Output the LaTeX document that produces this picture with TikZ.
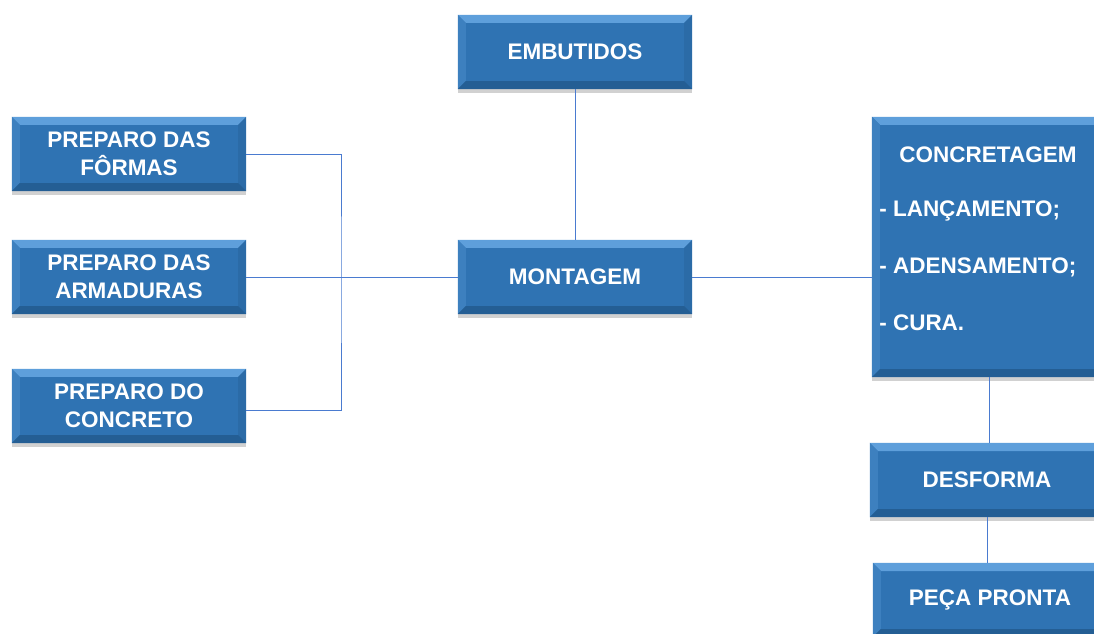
\documentclass[tikz,border=0pt]{standalone}
\usepackage{fontspec}
\setmainfont{Liberation Sans}
\usepackage{xcolor}
\usetikzlibrary{positioning,calc,shadows}
\definecolor{caixa}{HTML}{2F73B3}
\definecolor{caixaclara}{HTML}{5E9FDB}
\definecolor{caixaesc}{HTML}{245E94}
\definecolor{linha}{HTML}{4A7BD0}
\newcommand{\bv}{0.2cm}

\begin{document}
\begin{tikzpicture}[x=0.025cm, y=-0.025cm, every node/.style={align=center}]
\tikzset{
  etapa/.style={fill=caixa, text=white, font=\bfseries\fontsize{16}{20}\selectfont,
    minimum width=5.85cm, minimum height=1.85cm, inner sep=0pt,
    drop shadow={shadow xshift=0pt, shadow yshift=-2.5pt, opacity=0.3, fill=black!60},
    path picture={
      \fill[caixaclara] (path picture bounding box.north west) -- (path picture bounding box.north east)
        -- ([xshift=-\bv,yshift=-\bv]path picture bounding box.north east) -- ([xshift=\bv,yshift=-\bv]path picture bounding box.north west) -- cycle;
      \fill[caixa!70!caixaclara] (path picture bounding box.north west) -- ([xshift=\bv,yshift=-\bv]path picture bounding box.north west)
        -- ([xshift=\bv,yshift=\bv]path picture bounding box.south west) -- (path picture bounding box.south west) -- cycle;
      \fill[caixa!60!caixaesc] (path picture bounding box.north east) -- ([xshift=-\bv,yshift=-\bv]path picture bounding box.north east)
        -- ([xshift=-\bv,yshift=\bv]path picture bounding box.south east) -- (path picture bounding box.south east) -- cycle;
      \fill[caixaesc] (path picture bounding box.south west) -- (path picture bounding box.south east)
        -- ([xshift=-\bv,yshift=\bv]path picture bounding box.south east) -- ([xshift=\bv,yshift=\bv]path picture bounding box.south west) -- cycle;
    }},
  txtw/.style={text=white, font=\bfseries\fontsize{16}{20}\selectfont, inner sep=0pt},
  ligacao/.style={draw=linha, line width=0.6pt}
}
\useasboundingbox (0,0) rectangle (1094,633);
\clip (0,0) rectangle (1094,633);

% etapas
\node[etapa] (embutidos) at (575,52) {EMBUTIDOS};
\node[etapa] (formas) at (129,154) {PREPARO DAS\\FÔRMAS};
\node[etapa] (armaduras) at (129,277) {PREPARO DAS\\ARMADURAS};
\node[etapa] (concreto) at (129,406) {PREPARO DO\\CONCRETO};
\node[etapa] (montagem) at (575,277) {MONTAGEM};
\node[etapa, minimum height=6.5cm] (concretagem) at (989,247) {};
\node[txtw] (concretagemtit) at (988,155) {CONCRETAGEM};
\node[txtw, anchor=west] (lancamento) at (879,211) {- LANÇAMENTO;};
\node[txtw, anchor=west] (adensamento) at (879,267) {- ADENSAMENTO;};
\node[txtw, anchor=west] (cura) at (879,323) {- CURA.};
\node[etapa] (desforma) at (987,480) {DESFORMA};
\node[etapa] (pronta) at (990,600) {PEÇA PRONTA};

% ligacoes
\coordinate (juncao) at (341,277);
\draw[ligacao] (formas.east) -| (juncao) |- ($(concreto.east)+(0,4)$);
\draw[ligacao] (armaduras.east) -- (montagem.west);
\draw[ligacao] (embutidos.south) -- (montagem.north);
\draw[ligacao] (montagem.east) -- (montagem.east -| concretagem.west);
\draw[ligacao] (concretagem.south) -- (concretagem.south |- desforma.north);
\draw[ligacao] (desforma.south) -- (desforma.south |- pronta.north);
\end{tikzpicture}
\end{document}
